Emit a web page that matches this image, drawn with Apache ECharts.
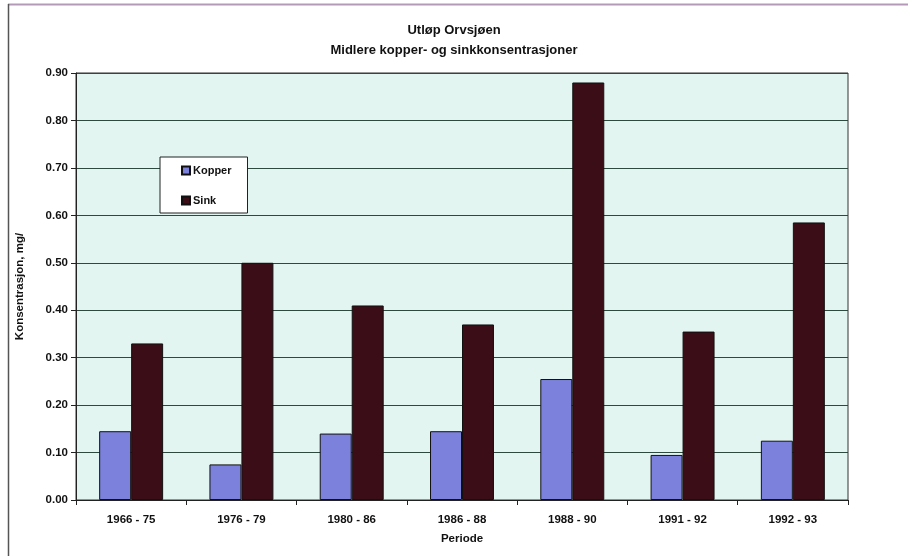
<!DOCTYPE html>
<html><head><meta charset="utf-8">
<script src="https://cdn.jsdelivr.net/npm/echarts@6/dist/echarts.min.js"></script>
<style>html,body{margin:0;padding:0;background:#fff}#c{width:908px;height:556px}</style>
</head><body><div id="c"></div>
<script>
const categories = ['1966 - 75','1976 - 79','1980 - 86','1986 - 88','1988 - 90','1991 - 92','1992 - 93'];
const kopper = [0.145, 0.075, 0.14, 0.145, 0.255, 0.095, 0.125];
const sink = [0.33, 0.50, 0.41, 0.37, 0.88, 0.355, 0.585];
const yTicks = [0, 0.1, 0.2, 0.3, 0.4, 0.5, 0.6, 0.7, 0.8, 0.9];

const chart = echarts.init(document.getElementById('c'));
const font = 'Liberation Sans, Arial, sans-serif';
chart.setOption({
  animation: false,
  backgroundColor: '#fff',
  title: {
    text: 'Utløp Orvsjøen\nMidlere kopper- og sinkkonsentrasjoner',
    left: 'center', top: 15,
    textStyle: {fontFamily: font, fontSize: 13, fontWeight: 'bold', color: '#111', lineHeight: 20}
  },
  legend: {
    data: ['Kopper','Sink'], orient: 'vertical', left: 160, top: 157,
    icon: 'rect',
    itemWidth: 8, itemHeight: 8, itemGap: 19,
    backgroundColor: '#fff', borderColor: '#222', borderWidth: 1,
    padding: [8, 16, 7, 21],
    textStyle: {fontFamily: font, fontSize: 11, fontWeight: 'bold', color: '#111', padding: [0,0,0,-2]}
  },
  grid: {left: 76, right: 60, top: 73, bottom: 56, show: true,
    backgroundColor: '#e2f5f1', borderColor: '#333', borderWidth: 1},
  xAxis: {
    type: 'category', data: categories,
    name: 'Periode', nameLocation: 'middle', nameGap: 33,
    nameTextStyle: {fontFamily: font, fontSize: 11.5, fontWeight: 'bold', color: '#111'},
    axisLine: {lineStyle: {color: '#222', width: 1}},
    axisTick: {show: true, length: 5, lineStyle: {color: '#222'}},
    axisLabel: {fontFamily: font, fontSize: 11.5, fontWeight: 'bold', color: '#111', margin: 14}
  },
  yAxis: {
    type: 'value', min: 0, max: 0.9, interval: 0.1,
    name: 'Konsentrasjon, mg/', nameLocation: 'middle', nameGap: 50,
    nameTextStyle: {fontFamily: font, fontSize: 11.5, fontWeight: 'bold', color: '#111'},
    axisLine: {show: true, lineStyle: {color: '#222'}},
    axisTick: {show: true, length: 5, lineStyle: {color: '#222'}},
    axisLabel: {fontFamily: font, fontSize: 11.5, fontWeight: 'bold', color: '#111', margin: 8,
      formatter: v => v.toFixed(2)},
    splitLine: {show: true, lineStyle: {color: '#2e4a3e', width: 1}}
  },
  series: [
    {name: 'Kopper', type: 'bar', data: kopper, barGap: '0%', barCategoryGap: '42%',
      itemStyle: {color: '#7c82dc', borderColor: '#111', borderWidth: 1}},
    {name: 'Sink', type: 'bar', data: sink,
      itemStyle: {color: '#3b0d16', borderColor: '#111', borderWidth: 1}}
  ],
  graphic: [
    {type: 'line', shape: {x1: 8, y1: 4.5, x2: 908, y2: 4.5}, style: {stroke: '#b49ab8', lineWidth: 2}},
    {type: 'line', shape: {x1: 8.5, y1: 4, x2: 8.5, y2: 556}, style: {stroke: '#555', lineWidth: 1.5}}
  ]
});
</script></body></html>
